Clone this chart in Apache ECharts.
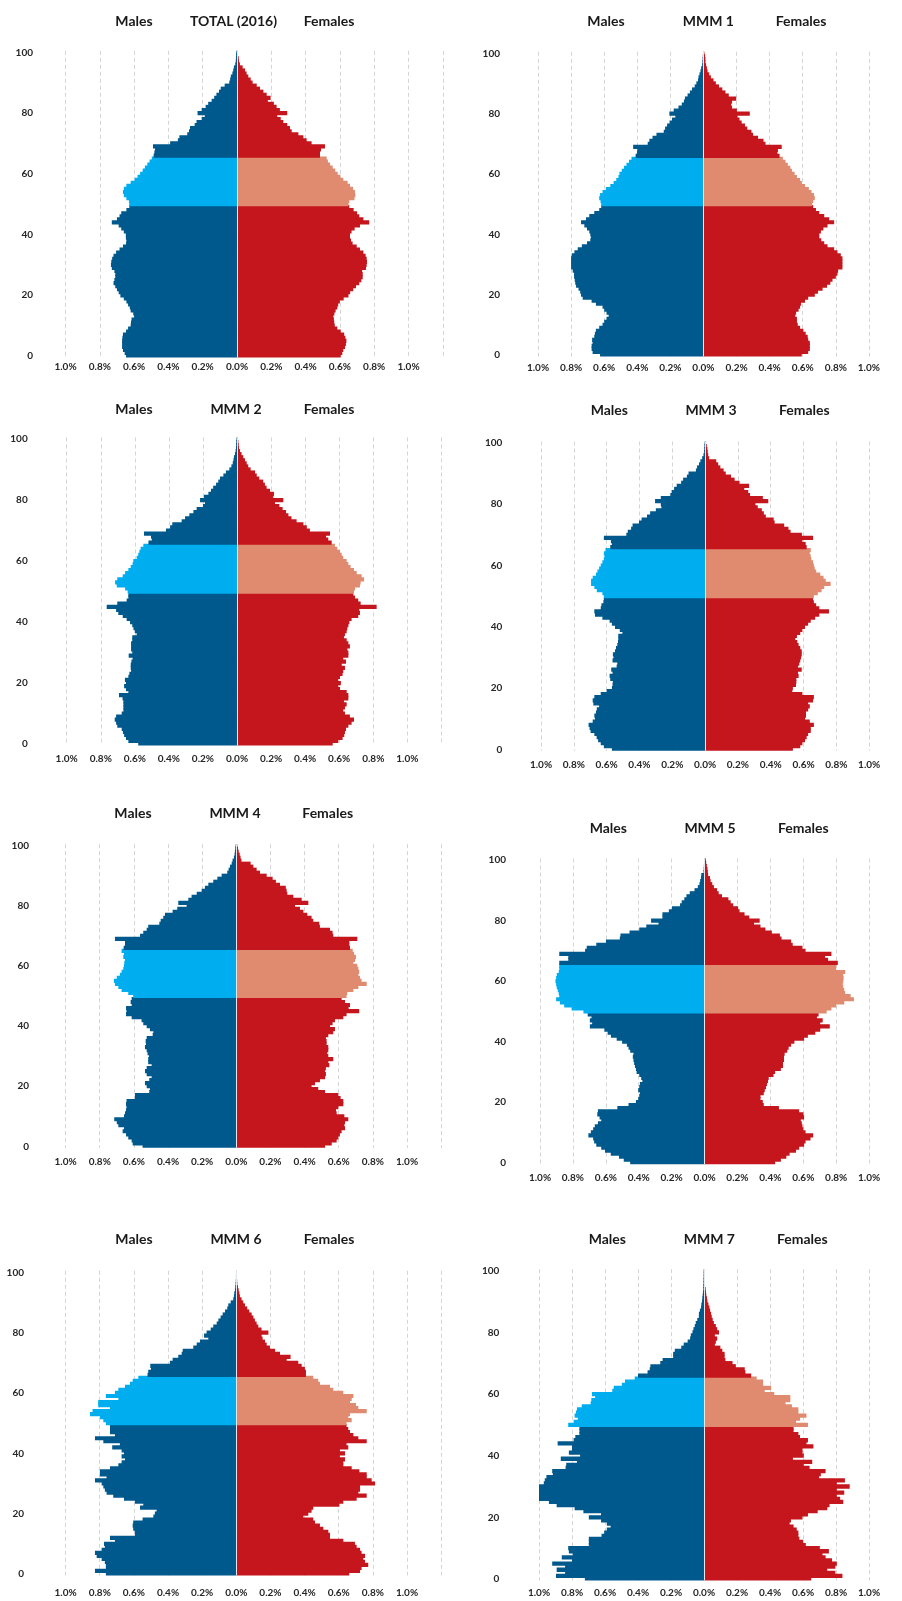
<!DOCTYPE html>
<html>
<head>
<meta charset="utf-8">
<script src="https://cdn.jsdelivr.net/npm/echarts@6/dist/echarts.min.js"></script>
<style>
  html, body { margin: 0; padding: 0; background: #ffffff; }
  #chart { width: 902px; height: 1601px; }
</style>
</head>
<body>
<div id="chart"></div>
<script>
// Single-year age groups, 0 to 100
const ages = Array.from({ length: 101 }, (_, i) => String(i));

const panelTitles = ['TOTAL (2016)', 'MMM 1', 'MMM 2', 'MMM 3', 'MMM 4', 'MMM 5', 'MMM 6', 'MMM 7'];
const sideLabels = ['Males', 'Females'];

// Ages drawn in the lighter shade
const highlightFrom = 50;
const highlightTo = 65;

// Share of the population by single year of age (%), index = age
const maleTotal = [
  0.647,0.655,0.665,0.67,0.67,0.67,0.668,0.665,0.647,0.635,
  0.62,0.618,0.615,0.60,0.605,0.62,0.625,0.635,0.645,0.66,
  0.68,0.69,0.70,0.71,0.72,0.715,0.71,0.71,0.715,0.73,
  0.735,0.733,0.728,0.72,0.705,0.685,0.665,0.647,0.645,0.648,
  0.648,0.66,0.675,0.69,0.73,0.70,0.685,0.675,0.645,0.628,
  0.628,0.63,0.645,0.66,0.665,0.66,0.645,0.62,0.597,0.58,
  0.565,0.55,0.537,0.523,0.51,0.497,0.486,0.482,0.478,0.49,
  0.39,0.345,0.336,0.29,0.28,0.274,0.247,0.236,0.206,0.188,
  0.23,0.206,0.183,0.168,0.148,0.133,0.12,0.105,0.095,0.072,
  0.045,0.04,0.036,0.027,0.022,0.018,0.01,0.007,0.006,0.005,0.004
];
const femaleTotal = [
  0.605,0.614,0.62,0.63,0.635,0.638,0.632,0.625,0.605,0.585,
  0.57,0.567,0.565,0.562,0.568,0.575,0.585,0.59,0.6,0.622,
  0.65,0.66,0.678,0.694,0.713,0.725,0.733,0.733,0.73,0.752,
  0.756,0.758,0.756,0.75,0.737,0.717,0.698,0.674,0.665,0.659,
  0.659,0.668,0.686,0.717,0.771,0.737,0.713,0.7,0.68,0.655,
  0.65,0.655,0.685,0.69,0.688,0.677,0.659,0.645,0.62,0.603,
  0.587,0.573,0.558,0.543,0.53,0.523,0.484,0.484,0.49,0.513,
  0.435,0.406,0.387,0.358,0.319,0.309,0.293,0.27,0.255,0.235,
  0.293,0.25,0.231,0.215,0.18,0.196,0.173,0.154,0.134,0.115,
  0.091,0.08,0.066,0.056,0.047,0.033,0.017,0.012,0.01,0.006,0.003
];

const maleMMM1 = [
  0.625,0.67,0.676,0.676,0.67,0.673,0.66,0.656,0.65,0.63,
  0.61,0.60,0.586,0.573,0.586,0.60,0.61,0.65,0.676,0.73,
  0.74,0.745,0.755,0.77,0.775,0.778,0.782,0.782,0.79,0.80,
  0.80,0.80,0.80,0.796,0.78,0.76,0.735,0.704,0.684,0.68,
  0.684,0.69,0.704,0.72,0.74,0.71,0.69,0.66,0.63,0.618,
  0.618,0.622,0.63,0.625,0.61,0.59,0.563,0.543,0.527,0.514,
  0.508,0.494,0.48,0.465,0.45,0.435,0.41,0.402,0.40,0.425,
  0.337,0.327,0.308,0.284,0.24,0.232,0.22,0.205,0.19,0.17,
  0.206,0.18,0.151,0.131,0.118,0.112,0.096,0.082,0.069,0.053,
  0.043,0.033,0.03,0.024,0.018,0.014,0.008,0.006,0.005,0.004,0.002
];
const femaleMMM1 = [
  0.594,0.633,0.643,0.643,0.643,0.633,0.63,0.618,0.604,0.584,
  0.57,0.565,0.565,0.555,0.56,0.575,0.584,0.59,0.614,0.633,
  0.673,0.692,0.72,0.747,0.767,0.78,0.8,0.81,0.814,0.84,
  0.84,0.84,0.84,0.83,0.81,0.79,0.75,0.73,0.712,0.70,
  0.70,0.71,0.725,0.75,0.79,0.76,0.73,0.70,0.68,0.663,
  0.657,0.663,0.673,0.668,0.653,0.637,0.614,0.595,0.584,0.565,
  0.551,0.535,0.525,0.51,0.496,0.48,0.46,0.447,0.45,0.473,
  0.375,0.363,0.33,0.30,0.29,0.265,0.251,0.231,0.218,0.206,
  0.28,0.202,0.173,0.167,0.173,0.198,0.153,0.133,0.114,0.094,
  0.075,0.061,0.045,0.035,0.025,0.021,0.016,0.012,0.012,0.01,0.006
];

const maleMMM2 = [
  0.58,0.638,0.652,0.663,0.67,0.677,0.703,0.71,0.718,0.71,
  0.677,0.667,0.667,0.667,0.667,0.672,0.693,0.638,0.652,0.663,
  0.652,0.658,0.638,0.632,0.622,0.624,0.624,0.62,0.613,0.636,
  0.615,0.622,0.622,0.622,0.615,0.615,0.589,0.6,0.608,0.615,
  0.628,0.648,0.671,0.697,0.71,0.765,0.703,0.648,0.638,0.638,
  0.642,0.657,0.706,0.716,0.703,0.671,0.657,0.638,0.624,0.613,
  0.609,0.589,0.58,0.573,0.566,0.55,0.52,0.50,0.505,0.546,
  0.417,0.393,0.38,0.325,0.305,0.28,0.256,0.237,0.2,0.188,
  0.217,0.194,0.168,0.153,0.14,0.123,0.11,0.1,0.08,0.065,
  0.045,0.033,0.025,0.021,0.018,0.012,0.008,0.006,0.005,0.004,0.003
];
const femaleMMM2 = [
  0.562,0.595,0.62,0.63,0.634,0.64,0.654,0.673,0.687,0.663,
  0.634,0.624,0.634,0.644,0.628,0.654,0.654,0.644,0.605,0.595,
  0.61,0.595,0.605,0.62,0.624,0.634,0.615,0.64,0.624,0.654,
  0.654,0.648,0.663,0.654,0.644,0.628,0.634,0.644,0.648,0.654,
  0.66,0.673,0.712,0.722,0.718,0.82,0.726,0.712,0.693,0.683,
  0.687,0.693,0.722,0.726,0.746,0.732,0.703,0.687,0.667,0.654,
  0.644,0.624,0.615,0.605,0.589,0.575,0.556,0.536,0.523,0.546,
  0.428,0.41,0.39,0.35,0.32,0.302,0.288,0.268,0.249,0.223,
  0.272,0.213,0.217,0.194,0.174,0.164,0.154,0.131,0.116,0.106,
  0.08,0.066,0.057,0.047,0.037,0.027,0.018,0.012,0.01,0.008,0.006
];

const maleMMM3 = [
  0.568,0.617,0.636,0.652,0.661,0.675,0.698,0.704,0.71,0.685,
  0.671,0.675,0.665,0.66,0.646,0.681,0.685,0.675,0.636,0.60,
  0.568,0.564,0.562,0.578,0.582,0.564,0.572,0.539,0.535,0.564,
  0.558,0.562,0.549,0.543,0.535,0.531,0.529,0.529,0.504,0.52,
  0.549,0.568,0.582,0.626,0.671,0.675,0.636,0.632,0.62,0.617,
  0.617,0.626,0.66,0.675,0.695,0.695,0.685,0.665,0.656,0.646,
  0.636,0.626,0.617,0.613,0.617,0.607,0.578,0.568,0.574,0.617,
  0.48,0.471,0.451,0.442,0.403,0.387,0.354,0.335,0.30,0.266,
  0.27,0.305,0.27,0.212,0.204,0.189,0.173,0.146,0.134,0.111,
  0.101,0.056,0.049,0.037,0.029,0.018,0.01,0.006,0.005,0.004,0.003
];
const femaleMMM3 = [
  0.535,0.58,0.593,0.609,0.619,0.628,0.644,0.644,0.663,0.638,
  0.609,0.615,0.615,0.628,0.638,0.628,0.658,0.663,0.593,0.531,
  0.535,0.554,0.556,0.556,0.57,0.566,0.589,0.566,0.574,0.58,
  0.585,0.589,0.589,0.58,0.57,0.562,0.55,0.56,0.58,0.593,
  0.609,0.628,0.644,0.671,0.696,0.755,0.696,0.677,0.663,0.658,
  0.663,0.687,0.71,0.726,0.765,0.735,0.722,0.702,0.677,0.668,
  0.663,0.658,0.648,0.644,0.638,0.644,0.619,0.613,0.593,0.658,
  0.59,0.521,0.508,0.482,0.424,0.418,0.37,0.358,0.346,0.321,
  0.307,0.385,0.352,0.274,0.263,0.239,0.268,0.21,0.18,0.158,
  0.126,0.113,0.093,0.08,0.068,0.025,0.019,0.016,0.014,0.01,0.006
];

const maleMMM4 = [
  0.549,0.607,0.613,0.633,0.646,0.666,0.658,0.691,0.70,0.715,
  0.658,0.652,0.646,0.643,0.646,0.643,0.594,0.594,0.51,0.506,
  0.525,0.535,0.51,0.496,0.525,0.535,0.525,0.496,0.516,0.516,
  0.512,0.52,0.525,0.535,0.529,0.531,0.525,0.49,0.486,0.506,
  0.525,0.545,0.555,0.613,0.646,0.643,0.646,0.613,0.619,0.613,
  0.604,0.633,0.672,0.691,0.711,0.717,0.70,0.682,0.672,0.662,
  0.658,0.656,0.652,0.662,0.658,0.672,0.66,0.652,0.652,0.711,
  0.564,0.545,0.525,0.516,0.451,0.443,0.428,0.418,0.373,0.346,
  0.291,0.34,0.281,0.262,0.232,0.203,0.184,0.164,0.135,0.111,
  0.086,0.053,0.045,0.037,0.027,0.022,0.014,0.01,0.008,0.006,0.004
];
const femaleMMM4 = [
  0.52,0.559,0.588,0.598,0.607,0.617,0.637,0.633,0.637,0.656,
  0.633,0.588,0.584,0.598,0.627,0.627,0.611,0.598,0.52,0.48,
  0.441,0.461,0.49,0.52,0.525,0.52,0.525,0.545,0.539,0.568,
  0.539,0.533,0.539,0.539,0.529,0.529,0.525,0.539,0.568,0.578,
  0.549,0.564,0.578,0.627,0.646,0.72,0.658,0.666,0.637,0.617,
  0.646,0.65,0.686,0.715,0.764,0.734,0.725,0.715,0.72,0.715,
  0.709,0.686,0.696,0.701,0.69,0.682,0.666,0.662,0.662,0.709,
  0.568,0.564,0.549,0.49,0.486,0.451,0.441,0.416,0.393,0.373,
  0.344,0.422,0.383,0.334,0.299,0.295,0.29,0.256,0.232,0.213,
  0.178,0.139,0.119,0.1,0.084,0.03,0.025,0.02,0.014,0.01,0.006
];

const maleMMM5 = [
  0.452,0.491,0.52,0.57,0.605,0.628,0.658,0.671,0.677,0.706,
  0.691,0.677,0.667,0.648,0.628,0.638,0.652,0.648,0.53,0.462,
  0.417,0.403,0.397,0.393,0.403,0.397,0.393,0.378,0.385,0.397,
  0.413,0.417,0.423,0.428,0.432,0.436,0.432,0.452,0.462,0.472,
  0.501,0.534,0.569,0.589,0.609,0.697,0.683,0.697,0.687,0.71,
  0.736,0.808,0.853,0.879,0.902,0.883,0.886,0.892,0.898,0.902,
  0.906,0.902,0.898,0.886,0.883,0.883,0.883,0.828,0.828,0.883,
  0.726,0.716,0.658,0.599,0.515,0.511,0.456,0.397,0.354,0.28,
  0.325,0.256,0.256,0.217,0.198,0.149,0.139,0.123,0.11,0.09,
  0.061,0.041,0.031,0.027,0.022,0.02,0.006,0.005,0.004,0.003,0.002
];
const femaleMMM5 = [
  0.429,0.464,0.497,0.517,0.556,0.575,0.605,0.614,0.644,0.66,
  0.614,0.601,0.595,0.591,0.585,0.605,0.601,0.575,0.452,0.36,
  0.354,0.34,0.34,0.36,0.366,0.374,0.38,0.386,0.39,0.419,
  0.429,0.464,0.477,0.477,0.483,0.483,0.487,0.503,0.511,0.526,
  0.546,0.605,0.628,0.673,0.703,0.761,0.703,0.718,0.683,0.693,
  0.742,0.771,0.80,0.849,0.908,0.888,0.855,0.849,0.843,0.84,
  0.843,0.845,0.843,0.855,0.80,0.80,0.81,0.751,0.732,0.771,
  0.614,0.595,0.536,0.526,0.468,0.458,0.409,0.37,0.34,0.301,
  0.335,0.272,0.243,0.213,0.204,0.174,0.159,0.145,0.106,0.086,
  0.076,0.057,0.047,0.037,0.033,0.022,0.02,0.018,0.014,0.01,0.008
];

const maleMMM6 = [
  0.764,0.828,0.764,0.764,0.77,0.789,0.818,0.828,0.789,0.77,
  0.775,0.711,0.74,0.594,0.594,0.604,0.607,0.604,0.549,0.486,
  0.477,0.467,0.564,0.545,0.594,0.658,0.721,0.76,0.77,0.779,
  0.789,0.828,0.76,0.799,0.799,0.74,0.691,0.672,0.652,0.672,
  0.658,0.672,0.727,0.682,0.779,0.828,0.711,0.74,0.74,0.74,
  0.764,0.779,0.799,0.857,0.842,0.74,0.809,0.809,0.691,0.764,
  0.711,0.691,0.652,0.623,0.607,0.574,0.52,0.516,0.5,0.504,
  0.389,0.373,0.34,0.32,0.314,0.252,0.232,0.213,0.164,0.189,
  0.174,0.15,0.135,0.115,0.105,0.092,0.08,0.066,0.053,0.047,
  0.033,0.018,0.014,0.012,0.008,0.006,0.004,0.003,0.002,0.002,0.001
];
const femaleMMM6 = [
  0.662,0.725,0.734,0.773,0.754,0.744,0.754,0.734,0.725,0.705,
  0.695,0.627,0.549,0.549,0.539,0.51,0.49,0.461,0.451,0.393,
  0.422,0.441,0.451,0.604,0.627,0.705,0.764,0.715,0.725,0.725,
  0.813,0.793,0.764,0.764,0.721,0.676,0.627,0.627,0.637,0.607,
  0.637,0.607,0.656,0.646,0.764,0.715,0.686,0.666,0.656,0.646,
  0.646,0.676,0.656,0.666,0.764,0.715,0.701,0.666,0.676,0.686,
  0.627,0.568,0.549,0.49,0.48,0.451,0.408,0.408,0.402,0.383,
  0.363,0.295,0.318,0.256,0.227,0.197,0.178,0.168,0.154,0.148,
  0.188,0.148,0.129,0.119,0.109,0.1,0.09,0.076,0.064,0.051,
  0.041,0.031,0.021,0.018,0.014,0.01,0.006,0.005,0.004,0.003,0.003
];

const maleMMM7 = [
  0.722,0.897,0.842,0.893,0.842,0.92,0.80,0.862,0.796,0.819,
  0.823,0.698,0.698,0.698,0.621,0.605,0.589,0.566,0.589,0.624,
  0.698,0.624,0.731,0.784,0.893,0.94,1.004,1.01,1.033,1.053,
  1.062,0.971,0.965,0.955,0.916,0.92,0.839,0.835,0.77,0.868,
  0.751,0.819,0.80,0.80,0.887,0.79,0.78,0.755,0.755,0.755,
  0.823,0.79,0.765,0.784,0.776,0.77,0.741,0.687,0.683,0.66,
  0.679,0.556,0.547,0.498,0.479,0.42,0.40,0.342,0.329,0.325,
  0.265,0.251,0.187,0.187,0.177,0.138,0.123,0.099,0.084,0.08,
  0.07,0.064,0.056,0.05,0.041,0.031,0.031,0.025,0.018,0.016,
  0.012,0.01,0.008,0.006,0.004,0.004,0.003,0.003,0.002,0.002,0.002
];
const femaleMMM7 = [
  0.65,0.839,0.796,0.747,0.796,0.805,0.776,0.737,0.718,0.757,
  0.702,0.617,0.601,0.578,0.572,0.572,0.562,0.543,0.519,0.527,
  0.597,0.63,0.689,0.747,0.761,0.844,0.825,0.805,0.85,0.805,
  0.883,0.805,0.854,0.698,0.708,0.737,0.64,0.605,0.656,0.539,
  0.605,0.597,0.597,0.663,0.621,0.63,0.582,0.572,0.543,0.543,
  0.63,0.558,0.582,0.621,0.572,0.572,0.533,0.494,0.523,0.523,
  0.426,0.368,0.407,0.358,0.358,0.319,0.286,0.251,0.247,0.193,
  0.173,0.13,0.125,0.125,0.111,0.099,0.066,0.072,0.08,0.066,
  0.091,0.08,0.072,0.06,0.053,0.047,0.043,0.037,0.033,0.027,
  0.021,0.018,0.014,0.012,0.01,0.004,0.003,0.002,0.002,0.001,0.001
];

const maleSeries = [maleTotal, maleMMM1, maleMMM2, maleMMM3, maleMMM4, maleMMM5, maleMMM6, maleMMM7];
const femaleSeries = [femaleTotal, femaleMMM1, femaleMMM2, femaleMMM3, femaleMMM4, femaleMMM5, femaleMMM6, femaleMMM7];

// Panel frames: zero line x, pixels per 1 %, label rows for ages 100 and 0,
// heading row and the x positions of the three headings, y-label right edge, x-label row
const frames = [
  { cx: 237,   s: 171.5, y100: 52.3,   y0: 356,    ty: 21,     mx: 134,   tx: 233.5, fx: 329,   lr: 33,    ly: 367.7 },
  { cx: 709,   s: 171,   y100: 53.3,   y0: 355,    ty: 21,     mx: 606,   tx: 708.3, fx: 801,   lr: 500,   ly: 368.3 },
  { cx: 237,   s: 170.3, y100: 439,    y0: 744,    ty: 409,    mx: 134,   tx: 236,   fx: 329,   lr: 27.7,  ly: 759.3 },
  { cx: 712.3, s: 171.3, y100: 443,    y0: 749.3,  ty: 410,    mx: 609.3, tx: 711,   fx: 804.3, lr: 502.3, ly: 766 },
  { cx: 236.3, s: 170.7, y100: 845.7,  y0: 1146.3, ty: 813.3,  mx: 133,   tx: 235,   fx: 327.7, lr: 29,    ly: 1162.7 },
  { cx: 710.3, s: 170.3, y100: 860,    y0: 1162.7, ty: 828.3,  mx: 608.3, tx: 710,   fx: 803.3, lr: 506,   ly: 1178.3 },
  { cx: 236.3, s: 170.7, y100: 1272.3, y0: 1574,   ty: 1239.3, mx: 134,   tx: 236,   fx: 329,   lr: 24,    ly: 1594 },
  { cx: 710.3, s: 171.3, y100: 1270.7, y0: 1579,   ty: 1239.3, mx: 607.3, tx: 709.3, fx: 802.3, lr: 499.3, ly: 1594 }
];

const COLORS = {
  maleDark: '#00598c',
  maleLight: '#00aeef',
  femaleDark: '#c4161c',
  femaleLight: '#e08b70'
};
const FONT = 'Lato, "Open Sans", sans-serif';
const labelStyle = { fontFamily: FONT, fontWeight: 'bold', fontSize: 10, color: '#262626' };

function barData(values, sign, dark, light) {
  return values.map((v, age) => {
    const c = (age >= highlightFrom && age <= highlightTo) ? light : dark;
    return { value: sign * v, itemStyle: { color: c } };
  });
}

const option = {
  animation: false,
  backgroundColor: '#ffffff',
  grid: [], xAxis: [], yAxis: [], series: [], graphic: []
};

frames.forEach((f, i) => {
  const band = (f.y0 - f.y100) / 100;
  const top = f.y100 - band / 2;
  const height = band * 101;
  const left = f.cx - f.s;
  const width = f.s * 2.2;
  const bottom = top + height;
  // bars a little taller than the band so neighbouring ages close up without seams
  const barPx = band + 1.2;

  option.grid.push({ left, top, width, height });

  option.xAxis.push({
    gridIndex: i,
    type: 'value',
    min: -1.0,
    max: 1.2,
    interval: 0.2,
    axisLine: { show: false },
    axisTick: { show: false },
    splitLine: { show: true, lineStyle: { color: '#d4d4d4', width: 1, type: [4, 3] } },
    axisLabel: Object.assign({
      showMaxLabel: false,
      margin: f.ly - bottom - 6,
      formatter: v => Math.abs(v).toFixed(1) + '%'
    }, labelStyle)
  });

  option.yAxis.push({
    gridIndex: i,
    type: 'category',
    data: ages,
    axisLine: { show: false },
    axisTick: { show: false },
    splitLine: { show: false },
    axisLabel: Object.assign({ interval: 19, margin: left - f.lr }, labelStyle)
  });

  option.series.push({
    name: sideLabels[0],
    type: 'bar',
    xAxisIndex: i,
    yAxisIndex: i,
    barWidth: barPx,
    barGap: '-100%',
    silent: true,
    data: barData(maleSeries[i], -1, COLORS.maleDark, COLORS.maleLight)
  });
  option.series.push({
    name: sideLabels[1],
    type: 'bar',
    xAxisIndex: i,
    yAxisIndex: i,
    barWidth: barPx,
    barGap: '-100%',
    silent: true,
    data: barData(femaleSeries[i], 1, COLORS.femaleDark, COLORS.femaleLight),
    markLine: {
      silent: true,
      symbol: 'none',
      label: { show: false },
      lineStyle: { color: '#e3e9ee', width: 1, type: 'solid' },
      data: [{ xAxis: 0 }]
    }
  });

  const heading = (text, x) => ({
    type: 'text',
    x, y: f.ty,
    silent: true,
    style: {
      text,
      align: 'center',
      verticalAlign: 'middle',
      font: 'bold 14px ' + FONT,
      fill: '#1a1a1a'
    }
  });
  option.graphic.push(heading(sideLabels[0], f.mx));
  option.graphic.push(heading(panelTitles[i], f.tx));
  option.graphic.push(heading(sideLabels[1], f.fx));
});

const chart = echarts.init(document.getElementById('chart'), null, { renderer: 'canvas' });
chart.setOption(option);
</script>
</body>
</html>
